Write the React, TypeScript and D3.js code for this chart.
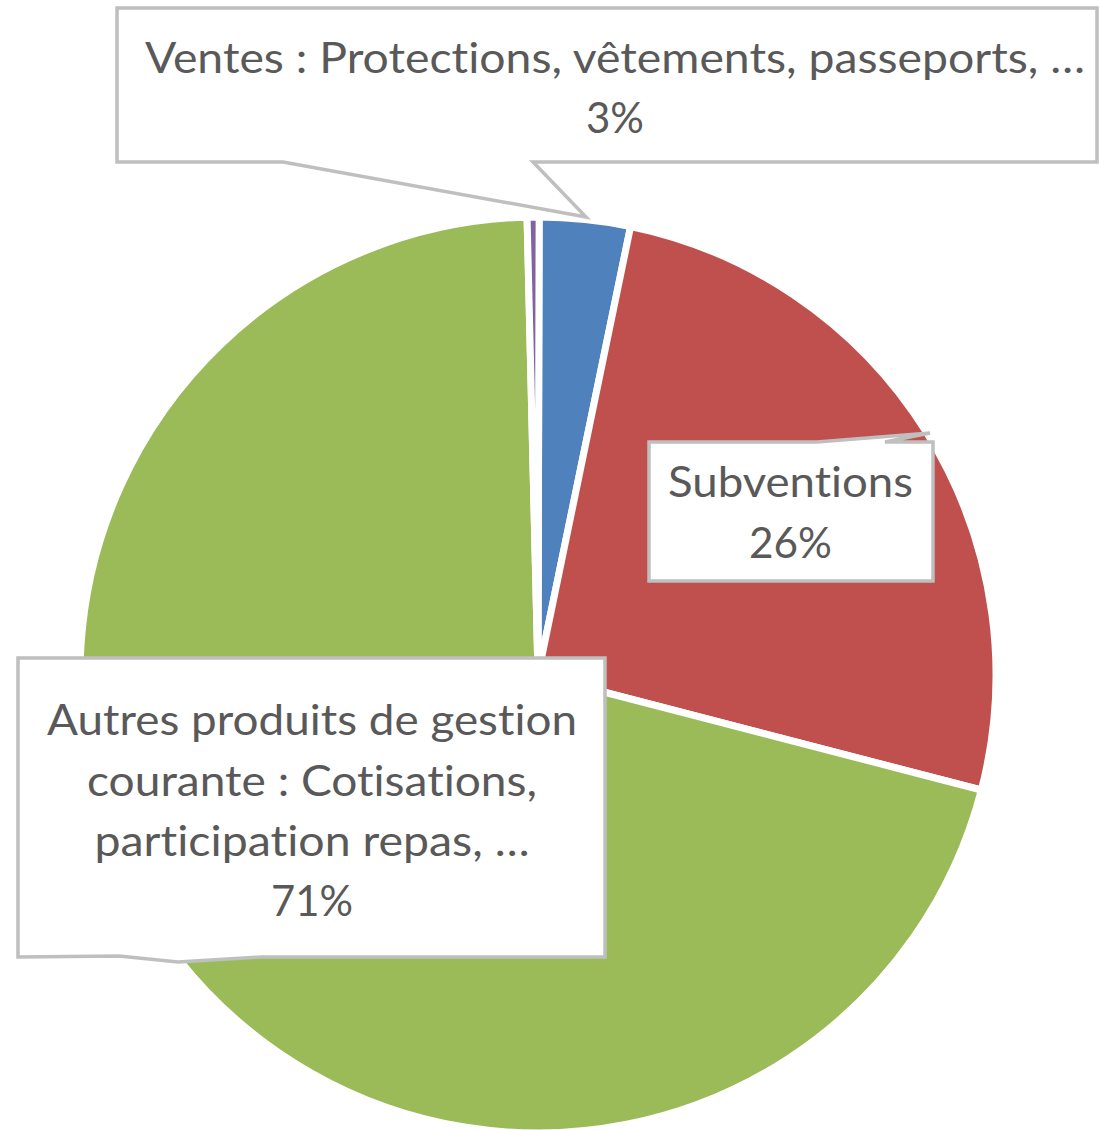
import React from "react";
import * as d3 from "d3";

// ---- data ----
const categories = [
  "Ventes : Protections, vêtements, passeports, …",
  "Subventions",
  "Autres produits de gestion courante : Cotisations, participation repas, …",
  "Divers",
];
const values = [3.2, 25.8, 70.58, 0.42];
const colors = ["#4F81BD", "#C0504D", "#9BBB59", "#8064A2"];
const labelLines: string[][] = [
  ["Ventes : Protections, vêtements, passeports, …"],
  ["Subventions"],
  ["Autres produits de gestion", "courante : Cotisations,", "participation repas, …"],
  [],
];

// ---- layout (positions / styles) ----
const W = 1099;
const H = 1130;
const CX = 538;
const CY = 675;
const R = 458;

type Callout = {
  path: string;
  cx: number;
  baselines: number[];
  widths: number[];
};
const callouts: (Callout | null)[] = [
  {
    path: "M117,8 L1097,8 L1097,162 L533,162 L586,217 L283,162 L117,162 Z",
    cx: 615,
    baselines: [73, 133],
    widths: [940, 58],
  },
  {
    path: "M649,442 L817,442 L930,433 L885,442 L933,442 L933,581 L649,581 Z",
    cx: 790.5,
    baselines: [497, 558],
    widths: [245, 83],
  },
  {
    path: "M18,658 L605,658 L605,957 L261,957 L178,962 L119,956 L18,957 Z",
    cx: 312,
    baselines: [735, 796, 856, 916],
    widths: [530, 450, 435, 82],
  },
  null,
];

const textStyle: React.CSSProperties = {
  fontVariantLigatures: "none",
  fontFeatureSettings: '"liga" 0, "clig" 0, "dlig" 0, "calt" 0',
  letterSpacing: "0.01px",
};

export default function App() {
  const total = d3.sum(values);
  const pie = d3
    .pie<number>()
    .sort(null)
    .value((d) => d)
    .startAngle(0.0025)
    .endAngle(0.0025 + 2 * Math.PI);
  const arcs = pie(values);
  const arc = d3.arc<d3.PieArcDatum<number>>().innerRadius(0).outerRadius(R);

  return (
    <svg
      width={W}
      height={H}
      style={{ position: "absolute", left: 0, top: 0, background: "#fff" }}
      fontFamily="Lato, 'Noto Sans', sans-serif"
    >
      <g transform={`translate(${CX},${CY})`}>
        {arcs.map((a, i) => (
          <path
            key={categories[i]}
            d={arc(a) || ""}
            fill={colors[i]}
            stroke="#fff"
            strokeWidth={7}
            strokeLinejoin="miter"
          />
        ))}
      </g>
      {callouts.map((c, i) => {
        if (!c) return null;
        const pct = Math.round((values[i] / total) * 100) + "%";
        const lines = [...labelLines[i], pct];
        return (
          <g key={"c" + i}>
            <path d={c.path} fill="#fff" stroke="#BFBFBF" strokeWidth={3.5} strokeLinejoin="miter" />
            {lines.map((t, j) => (
              <text
                key={j}
                x={c.cx}
                y={c.baselines[j]}
                textAnchor="middle"
                fontSize={43}
                fill="#595959"
                textLength={c.widths[j]}
                lengthAdjust="spacingAndGlyphs"
                style={textStyle}
              >
                {t}
              </text>
            ))}
          </g>
        );
      })}
    </svg>
  );
}
